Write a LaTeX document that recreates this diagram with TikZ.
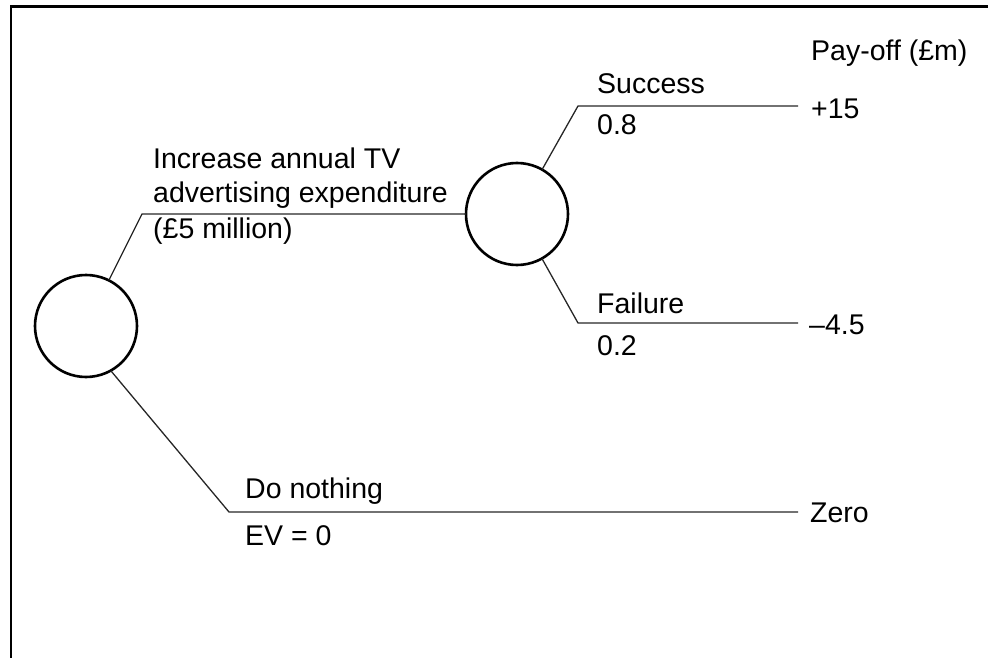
\documentclass[tikz,border=0pt]{standalone}
\usepackage{fontspec}
\setmainfont{Liberation Sans}
\begin{document}
\begin{tikzpicture}[x=1pt,y=-1pt,
  chance/.style={circle,draw=black,line width=2.6pt,minimum size=102pt,inner sep=0pt,outer sep=0pt},
  branch/.style={draw=black!85,line width=1.3pt},
  lbl/.style={anchor=base west,inner sep=0pt,font=\fontsize{28.5}{34}\selectfont},
  frame/.style={draw=black,line width=2.3pt}]
\useasboundingbox (0,0) rectangle (988,658);
% frame (top and left edges)
\coordinate (fa) at (11,658);
\coordinate (fb) at (11,6.5);
\coordinate (fc) at (990,6.5);
\draw[frame] (fa) -- (fb) -- (fc);
% nodes
\node[chance] (c1) at (86,326) {};
\node[chance] (c2) at (517,214) {};
\coordinate (b1) at (142,214);
\coordinate (b3) at (229,512);
\coordinate (s1) at (578,106);
\coordinate (f1) at (578,323);
\coordinate (e1) at (798,106);
\coordinate (e2) at (798,323);
\coordinate (e3) at (798,512);
% branches
\draw[branch] (c1) -- (b1) -- (c2);
\draw[branch] (c1.-61) -- (b3) -- (e3);
\draw[branch] (c2) -- (s1) -- (e1);
\draw[branch] (c2) -- (f1) -- (e2);
% labels
\node[lbl] (t1) at (153,168) {Increase annual TV};
\node[lbl] (t2) at (153,202) {advertising expenditure};
\node[lbl] (t3) at (153,238) {(£5 million)};
\node[lbl] (t4) at (597,94) {Success};
\node[lbl] (t5) at (597,135) {0.8};
\node[lbl] (t6) at (597,313) {Failure};
\node[lbl] (t7) at (597,355) {0.2};
\node[lbl] (t8) at (245,498) {Do nothing};
\node[lbl] (t9) at (245,545) {EV = 0};
\node[lbl] (p0) at (811,61) {Pay-off (£m)};
\node[lbl] (p1) at (811,119) {+15};
\node[lbl] (p2) at (809,334) {–4.5};
\node[lbl] (p3) at (810,522) {Zero};
\end{tikzpicture}
\end{document}
